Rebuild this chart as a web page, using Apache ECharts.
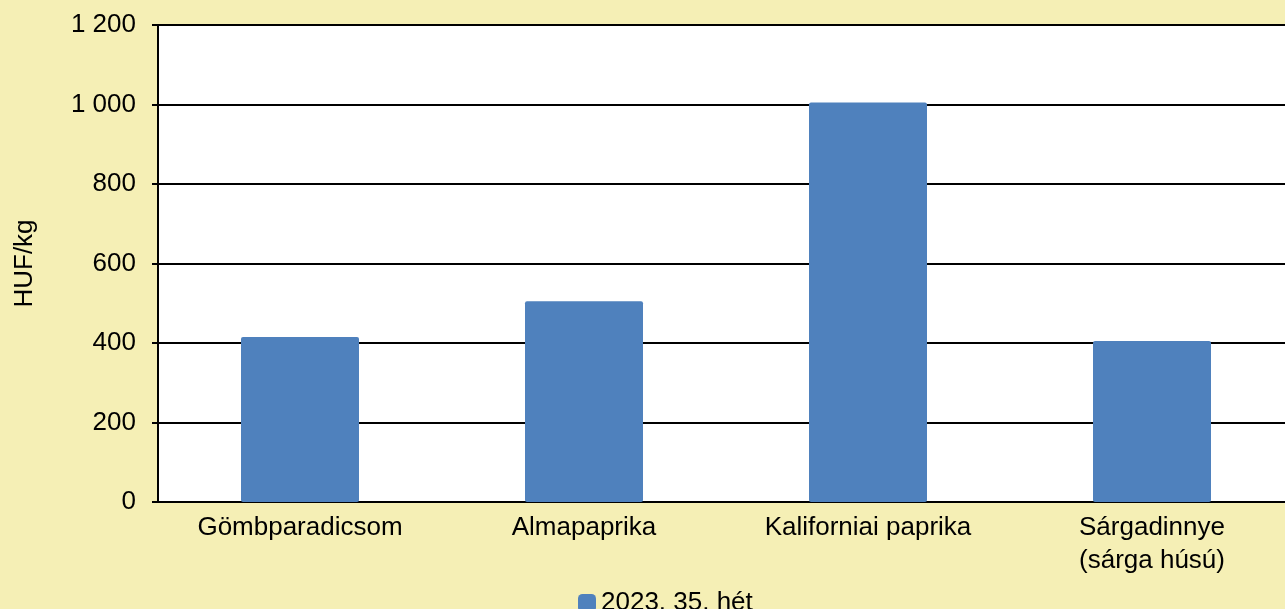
<!DOCTYPE html>
<html>
<head>
<meta charset="utf-8">
<script src="https://cdn.jsdelivr.net/npm/echarts@6/dist/echarts.min.js"></script>
<style>
  html, body { margin: 0; padding: 0; background: #f5efb5; }
  #chart { width: 1285px; height: 609px; }
</style>
</head>
<body>
<div id="chart"></div>
<script>
var categories = ['Gömbparadicsom', 'Almapaprika', 'Kaliforniai paprika', 'Sárgadinnye\n(sárga húsú)'];
var prices = [415, 505, 1005, 405];
var seriesName = '2023. 35. hét';

var chartDom = document.getElementById('chart');
var myChart = echarts.init(chartDom);

function formatThousands(v) {
    return String(v).replace(/\B(?=(\d{3})+(?!\d))/g, ' ');
}

var option = {
    backgroundColor: '#f5efb5',
    textStyle: { fontFamily: 'Liberation Sans, Arial, sans-serif' },
    grid: {
        left: 158,
        top: 25,
        right: -9,
        height: 477,
        outerBoundsMode: 'none',
        show: true,
        backgroundColor: '#ffffff',
        borderWidth: 0
    },
    legend: {
        bottom: -12,
        left: 573,
        itemWidth: 18,
        itemHeight: 18,
        itemGap: 4,
        icon: 'roundRect',
        textStyle: { fontSize: 26, color: '#000' },
        data: [seriesName]
    },
    xAxis: {
        type: 'category',
        data: categories,
        axisTick: { show: false },
        axisLine: { show: true, lineStyle: { color: '#000', width: 2 } },
        axisLabel: {
            color: '#000',
            fontSize: 26,
            margin: 9,
            lineHeight: 33,
            interval: 0
        }
    },
    yAxis: {
        type: 'value',
        min: 0,
        max: 1200,
        interval: 200,
        name: 'HUF/kg',
        nameLocation: 'middle',
        nameGap: 120,
        nameTextStyle: { color: '#000', fontSize: 26 },
        axisLine: { show: true, lineStyle: { color: '#000', width: 2 } },
        axisTick: { show: true, length: 6, lineStyle: { color: '#000', width: 2 } },
        axisLabel: {
            color: '#000',
            fontSize: 26,
            margin: 22,
            formatter: function (v) { return formatThousands(v); }
        },
        splitLine: { show: true, lineStyle: { color: '#000', width: 2 } }
    },
    series: [
        {
            name: seriesName,
            type: 'bar',
            barWidth: 118,
            data: prices,
            itemStyle: { color: '#4f81bd', borderRadius: 2 },
            z: 1
        }
    ]
};

option && myChart.setOption(option);
</script>
</body>
</html>
